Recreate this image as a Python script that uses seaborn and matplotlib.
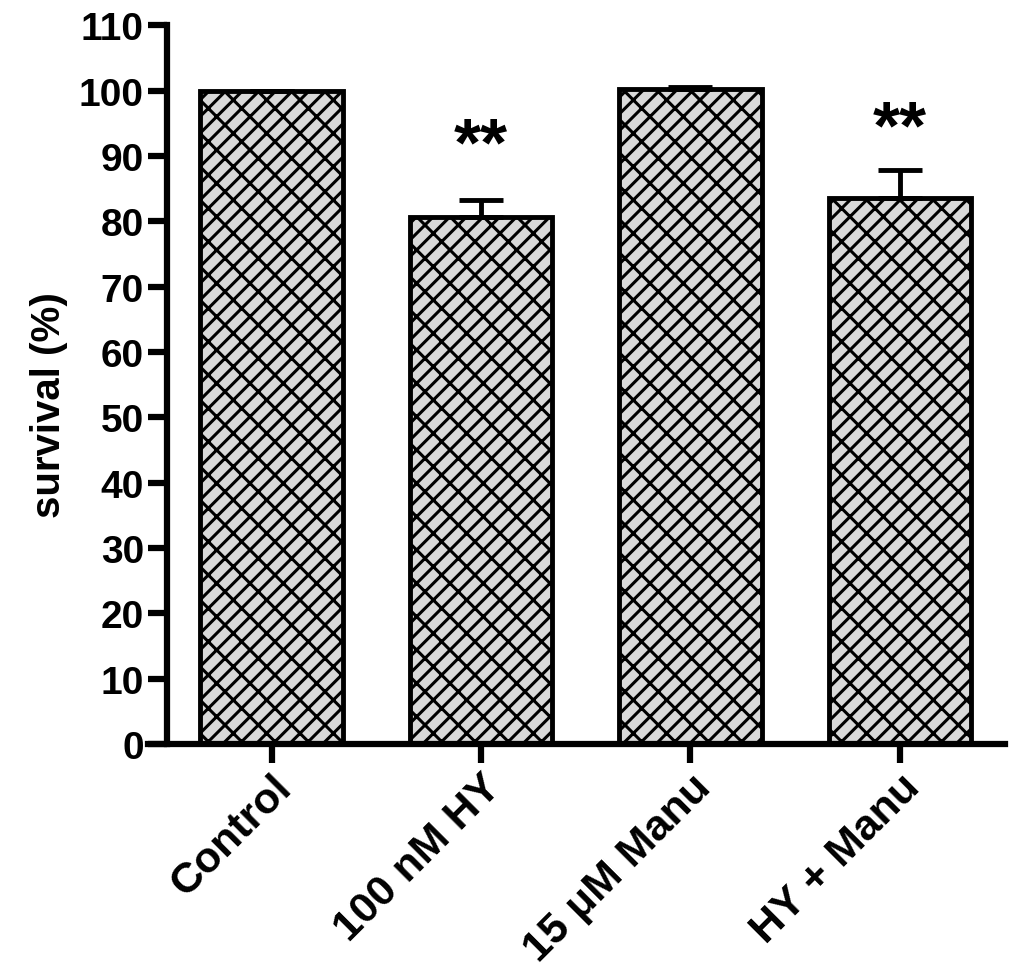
import matplotlib
matplotlib.use("Agg")
import matplotlib.pyplot as plt
import seaborn as sns
import pandas as pd

grupos = ["Control", "100 nM HY", "15 \u03bcM Manu", "HY + Manu"]
sobrevivencia = [100.0, 80.6, 100.3, 83.5]
erro = [0.0, 2.7, 0.3, 4.4]
marcas = ["", "**", "", "**"]
marcas_y = [0, 91.4, 0, 94.0]
yticks = list(range(0, 111, 10))

df = pd.DataFrame({"grupo": grupos, "sobrevivencia": sobrevivencia, "erro": erro})

sns.set_style("white")
plt.rcParams["font.family"] = ["Liberation Sans", "DejaVu Sans"]
plt.rcParams["font.weight"] = "bold"
plt.rcParams["text.color"] = "black"
plt.rcParams["axes.labelcolor"] = "black"
plt.rcParams["xtick.color"] = "black"
plt.rcParams["ytick.color"] = "black"
plt.rcParams["axes.edgecolor"] = "black"
plt.rcParams["hatch.linewidth"] = 2.2
plt.rcParams["hatch.color"] = "black"

fig = plt.figure(figsize=(10.24, 9.7), dpi=100)
ax = fig.add_axes([0.1445, 0.232, 0.981 - 0.1445, 0.741])

sns.barplot(data=df, x="grupo", y="sobrevivencia", color="#d9d9d9", width=0.68,
            edgecolor="black", linewidth=3.5, hatch="//\\", ax=ax, errorbar=None)

ax.errorbar(range(len(grupos)), df["sobrevivencia"],
            yerr=[[0] * len(grupos), df["erro"]], fmt="none",
            ecolor="black", elinewidth=3.5, capsize=16, capthick=3.5)

for i, m in enumerate(marcas):
    if m:
        ax.text(i, marcas_y[i], m, ha="center", va="center",
                fontsize=50, fontweight="bold")

# posicao das spines antes dos ticks (set_position reinicia os ticks)
sns.despine(ax=ax)
ax.spines["left"].set_position(("data", -0.5))
ax.spines["left"].set_linewidth(4.5)
ax.spines["bottom"].set_linewidth(4.5)

ax.set_xlim(-0.59, 3.5)
ax.set_ylim(0, 110)
ax.spines["left"].set_bounds(0, 110)
ax.set_yticks(yticks)
ax.set_yticklabels([str(t) for t in yticks], fontsize=28, fontweight="bold")
ax.set_xticks(range(len(grupos)))
ax.set_xticklabels(grupos, fontsize=31, fontweight="bold", rotation=45,
                   ha="right", rotation_mode="anchor")
ax.set_xlabel("")
ax.set_ylabel("survival (%)", fontsize=29, fontweight="bold", labelpad=8, y=0.473)

ax.tick_params(axis="both", which="major", direction="out", length=13.5, width=4.5,
               color="black", left=True, bottom=True, pad=3)

fig.savefig("out.png", dpi=100)
